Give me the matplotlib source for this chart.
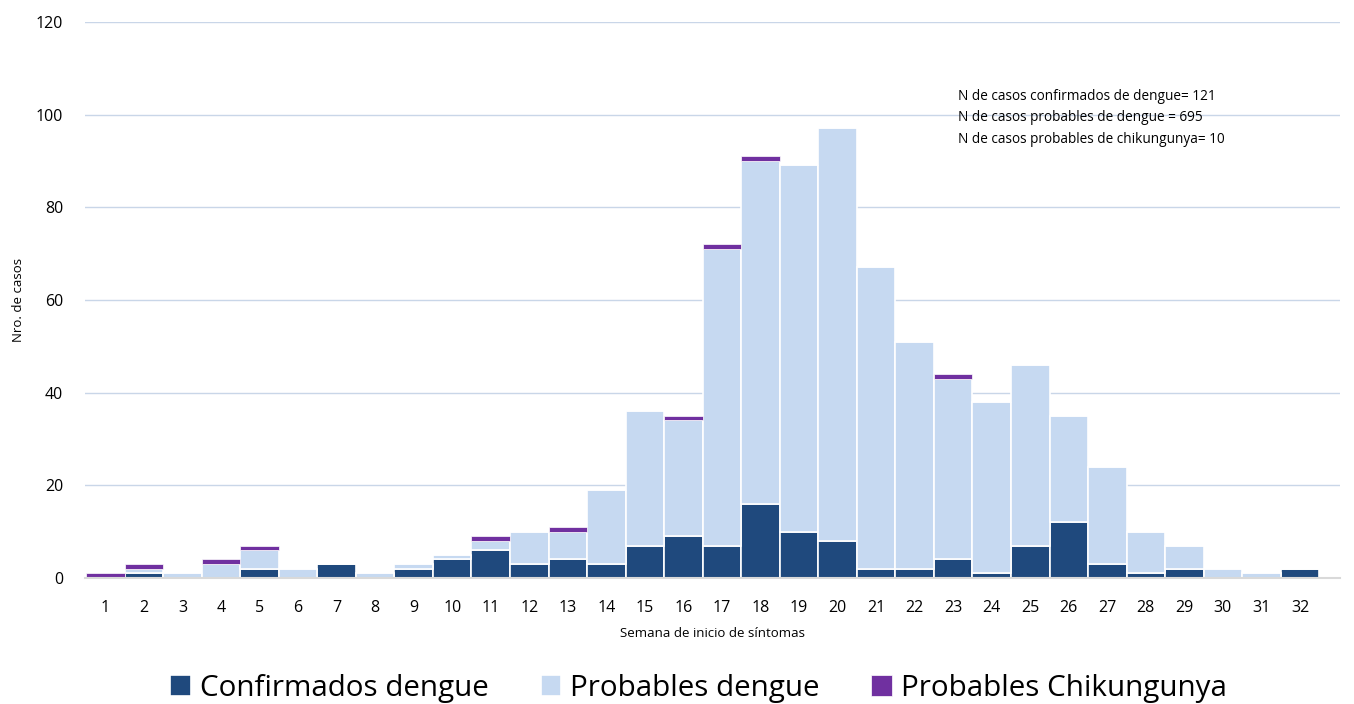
import numpy as np
import matplotlib
matplotlib.use("Agg")
import matplotlib.pyplot as plt

plt.rcParams['font.family'] = ['Open Sans', 'DejaVu Sans']

semanas = list(range(1, 33))
confirmados = [0, 1, 0, 0, 2, 0, 3, 0, 2, 4, 6, 3, 4, 3, 7, 9,
               7, 16, 10, 8, 2, 2, 4, 1, 7, 12, 3, 1, 2, 0, 0, 2]
probables = [0, 1, 1, 3, 4, 2, 0, 1, 1, 1, 2, 7, 6, 16, 29, 25,
             64, 74, 79, 89, 65, 49, 39, 37, 39, 23, 21, 9, 5, 2, 1, 0]
chikungunya = [1, 1, 0, 1, 1, 0, 0, 0, 0, 0, 1, 0, 1, 0, 0, 1,
               1, 1, 0, 0, 0, 0, 1, 0, 0, 0, 0, 0, 0, 0, 0, 0]

x = np.array(semanas)
conf = np.array(confirmados)
prob = np.array(probables)
chik = np.array(chikungunya)

fig = plt.figure(figsize=(13.54, 7.04), dpi=100)
ax = fig.add_axes([0.063, 0.179, 0.927, 0.79])

ax.bar(x, conf, width=1.0, color='#1F497D', edgecolor='white', linewidth=1.2,
       label='Confirmados dengue', zorder=3)
ax.bar(x, prob, width=1.0, bottom=conf, color='#C6D9F1', edgecolor='white',
       linewidth=1.2, label='Probables dengue', zorder=3)
ax.bar(x, chik, width=1.0, bottom=conf + prob, color='#7030A0', edgecolor='white',
       linewidth=0.5, label='Probables Chikungunya', zorder=3)

ax.set_xlim(0.48, 33.05)
ax.set_ylim(0, 120)
ax.set_yticks(range(0, 121, 20))
ax.set_xticks(semanas)
ax.tick_params(axis='both', length=0, labelsize=11.5, colors='#000000')
ax.tick_params(axis='y', pad=16)
ax.tick_params(axis='x', pad=16)
ax.grid(axis='y', color='#C9D6E8', linewidth=1, zorder=0)
for s in ['top', 'right', 'left']:
    ax.spines[s].set_visible(False)
ax.spines['bottom'].set_color('#D9D9D9')
ax.spines['bottom'].set_linewidth(1.5)
ax.spines['bottom'].set_zorder(4)

ax.set_xlabel('Semana de inicio de síntomas', fontsize=9.5, labelpad=8)
ax.set_ylabel('Nro. de casos', fontsize=9.5, labelpad=8)

ax.text(0.695, 0.88, 'N de casos confirmados de dengue= 121\n'
        'N de casos probables de dengue = 695\n'
        'N de casos probables de chikungunya= 10',
        transform=ax.transAxes, fontsize=9.8, linespacing=1.6, va='top')

fig.legend(loc='lower center', bbox_to_anchor=(0.516, -0.036), ncol=3,
           frameon=False, fontsize=21.3, handlelength=0.7, handleheight=0.7,
           handletextpad=0.3, columnspacing=1.75)

plt.savefig("out.png", dpi=100)
